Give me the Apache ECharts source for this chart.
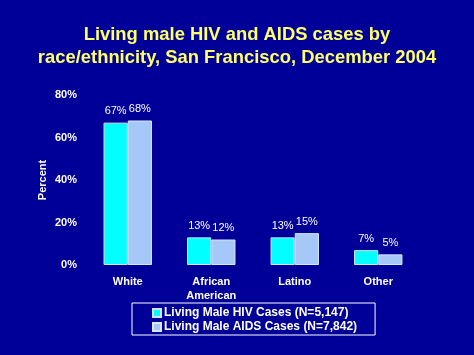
<!DOCTYPE html>
<html><head><meta charset="utf-8">
<script src="https://cdn.jsdelivr.net/npm/echarts@6/dist/echarts.min.js"></script>
<style>html,body{margin:0;padding:0;background:#000099;}#c{width:474px;height:355px;}</style>
</head><body><div id="c"></div>
<script>
const categories = ['White', 'African\nAmerican', 'Latino', 'Other'];
const hivValues = [67, 13, 13, 7];
const aidsValues = [68, 12, 15, 5];
const yTicks = [0, 20, 40, 60, 80];
const seriesNames = ['Living Male HIV Cases (N=5,147)', 'Living Male AIDS Cases (N=7,842)'];
const titleText = 'Living male HIV and AIDS cases by\nrace/ethnicity, San Francisco, December 2004';

const chart = echarts.init(document.getElementById('c'));
const ff = 'Liberation Sans, Arial, sans-serif';
chart.setOption({
  backgroundColor: '#000099',
  animation: false,
  title: {
    text: titleText, left: 'center', top: 18,
    textStyle: { color: '#FFFF66', fontSize: 18.4, fontWeight: 'bold', fontFamily: ff, lineHeight: 23 }
  },
  grid: { left: 86, right: 54, top: 95, bottom: 90 },
  legend: {
    orient: 'vertical', left: 132, top: 303,
    padding: [3, 18, 1, 20],
    borderColor: '#ffffff', borderWidth: 1,
    itemWidth: 8, itemHeight: 8, itemGap: 0,
    textStyle: { color: '#ffffff', fontSize: 12, fontWeight: 'bold', fontFamily: ff, lineHeight: 14, padding: [0, 0, 0, -2] },
    icon: 'rect',
    data: seriesNames
  },
  xAxis: {
    type: 'category', data: categories,
    axisLine: { show: false }, axisTick: { show: false },
    axisLabel: { color: '#ffffff', fontSize: 11, fontWeight: 'bold', fontFamily: ff, margin: 10, lineHeight: 14 }
  },
  yAxis: {
    type: 'value', min: 0, max: 80, interval: 20,
    name: 'Percent', nameLocation: 'middle', nameGap: 38, nameRotate: 90, nameMoveOverlap: false,
    nameTextStyle: { color: '#ffffff', fontSize: 11, fontWeight: 'bold', fontFamily: ff },
    splitLine: { show: false }, axisLine: { show: false }, axisTick: { show: false },
    axisLabel: { color: '#ffffff', fontSize: 11, fontWeight: 'bold', fontFamily: ff, margin: 9,
      formatter: v => yTicks.includes(v) ? v + '%' : '' }
  },
  series: [
    { name: seriesNames[0], type: 'bar', data: hivValues, barGap: '0%', barCategoryGap: '42%',
      itemStyle: { color: '#00FFFF', borderColor: '#CCE6FF', borderWidth: 1 },
      label: { show: true, position: 'top', color: '#ffffff', fontSize: 11, fontFamily: ff, formatter: '{c}%', distance: 6 } },
    { name: seriesNames[1], type: 'bar', data: aidsValues,
      itemStyle: { color: '#A6C8F8', borderColor: '#D8E8FF', borderWidth: 1 },
      label: { show: true, position: 'top', color: '#ffffff', fontSize: 11, fontFamily: ff, formatter: '{c}%', distance: 6 } }
  ]
});
</script></body></html>
